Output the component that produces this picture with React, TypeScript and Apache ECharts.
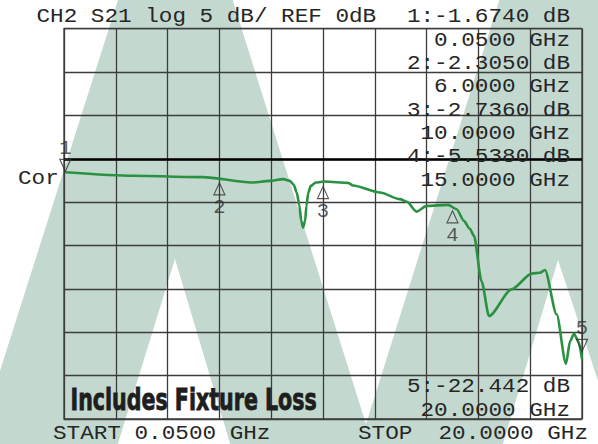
import React, { useEffect, useRef } from "react";
import * as echarts from "echarts";

// Trace: frequency (GHz) and S21 magnitude (dB)
const traceGhz = [
  0.05, 2.67, 5.37, 7.24, 7.95, 8.46, 8.72, 8.87, 8.99, 9.09, 9.16, 9.23, 9.31, 9.36, 9.43,
  9.53, 9.72, 10.07, 10.97, 11.16, 12.2, 12.97, 13.24, 13.61, 14.0, 14.83, 15.16, 15.44,
  15.67, 15.83, 16.12, 16.41, 17.28, 18.06, 18.38, 18.57, 19.02, 19.38, 19.54, 19.69, 19.86, 20.0,
];
const traceDb = [
  -1.55, -1.96, -2.11, -2.74, -2.54, -2.34, -2.54, -3.0, -3.93, -5.43, -7.16, -7.93, -7.16, -5.43, -3.93,
  -3.12, -2.74, -2.62, -2.77, -3.08, -3.89, -4.65, -4.96, -6.09, -5.43, -5.31, -5.81, -7.16,
  -8.08, -8.89, -14.09, -18.13, -15.05, -13.24, -13.13, -12.82, -17.93, -23.64, -21.02, -20.17, -21.02, -23.1,
];

// Markers
const markerGhz = [0.05, 6, 10, 15, 20];
const markerDb = [-1.674, -2.305, -2.736, -5.538, -22.442];
const markerUp = [false, true, true, true, false];

// Axis ticks
const xMin = 0;
const xMax = 20;
const xStep = 2;
const yMin = -30;
const yMax = 15;
const yStep = 5;

// Texts
const headerText = "CH2 S21 log 5 dB/ REF 0dB";
const corText = "Cor";
const startText = "START 0.0500 GHz";
const stopWord = "STOP";
const stopValue = "20.0000 GHz";
const noteText = "Includes Fixture Loss";

const MONO = "'Liberation Mono', 'DejaVu Sans Mono', monospace";
const MONO_SIZE = 20.5;
const MONO_SCALE = 1.105;
const TXT = "#262626";
const GREEN_BG = "#c3d9cf";

function monoText(text: string, x: number, y: number, align: string) {
  return {
    type: "text",
    z: 20,
    silent: true,
    x,
    y,
    scaleX: MONO_SCALE,
    style: {
      text,
      fontFamily: MONO,
      fontSize: MONO_SIZE,
      lineHeight: 18,
      fill: TXT,
      align,
      textAlign: align,
      verticalAlign: "middle",
      textVerticalAlign: "middle",
    },
  };
}

export default function App() {
  const ref = useRef<HTMLDivElement>(null);
  useEffect(() => {
    document.body.style.margin = "0";
    if (!ref.current) return;
    const chart = echarts.init(ref.current, null, { renderer: "svg" });

    const readouts: any[] = [];
    const lineStep = 23.33;
    for (let i = 0; i < 4; i++) {
      readouts.push(monoText(`${i + 1}:${markerDb[i].toPrecision(5)} dB`, 570, 16.7 + 2 * i * lineStep, "right"));
      readouts.push(monoText(`${markerGhz[i].toFixed(4)} GHz`, 570, 16.7 + (2 * i + 1) * lineStep, "right"));
    }
    readouts.push(monoText(`5:${markerDb[4].toPrecision(5)} dB`, 570, 386.7, "right"));
    readouts.push(monoText(`${markerGhz[4].toFixed(4)} GHz`, 570, 410, "right"));

    const bgShapes = [
      { type: "rect", z: -20, silent: true, shape: { x: 0, y: 0, width: 598, height: 444 }, style: { fill: GREEN_BG } },
      { type: "polygon", z: -19, silent: true, shape: { points: [[-2, -2], [118.6, -2], [-2, 377]] }, style: { fill: "#fff" } },
      { type: "polygon", z: -19, silent: true, shape: { points: [[232, -2], [500, -2], [366, 424]] }, style: { fill: "#fff" } },
      { type: "polygon", z: -19, silent: true, shape: { points: [[175, 259], [116, 450], [232, 450]] }, style: { fill: "#fff" } },
      { type: "polygon", z: -19, silent: true, shape: { points: [[558, 260], [501, 450], [621, 450]] }, style: { fill: "#fff" } },
    ];

    const texts = [
      monoText(headerText, 36.5, 16.7, "left"),
      monoText(corText, 18, 178.3, "left"),
      monoText(startText, 53, 433, "left"),
      monoText(stopWord, 358, 433, "left"),
      monoText(stopValue, 588, 433, "right"),
      {
        type: "text",
        z: 20,
        silent: true,
        x: 70.5,
        y: 399,
        scaleX: 0.763,
        style: {
          text: noteText,
          fontFamily: "'Liberation Sans Narrow', 'DejaVu Sans Condensed', 'Arial Narrow', sans-serif",
          fontWeight: "bold",
          fontSize: 30,
          lineHeight: 26,
          fill: "#1e1e1e",
          stroke: "#1e1e1e",
          lineWidth: 0.8,
          align: "left",
          textAlign: "left",
          verticalAlign: "middle",
          textVerticalAlign: "middle",
        },
      },
    ];

    const trace = traceGhz.map((f, i) => [f, traceDb[i]]);
    const markers = markerGhz.map((f, i) => ({
      value: [f, markerDb[i]],
      symbol: markerUp[i] ? "triangle" : "path://M0,0L10,0L5,11Z",
      symbolOffset: markerUp[i] ? [0, 10] : [0, -8],
      label: { position: markerUp[i] ? "bottom" : "top", distance: markerUp[i] ? 1 : -1 },
    }));

    const gridColor = "#3c3c3c";

    chart.setOption({
      animation: false,
      grid: {
        left: 64,
        top: 28.7,
        width: 518,
        height: 390.3,
        show: true,
        borderColor: gridColor,
        borderWidth: 1.3,
        backgroundColor: "transparent",
      },
      xAxis: {
        type: "value",
        min: xMin,
        max: xMax,
        interval: xStep,
        axisLine: { show: false },
        axisTick: { show: false },
        axisLabel: { show: false },
        splitLine: { show: true, lineStyle: { color: gridColor, width: 1.3 } },
      },
      yAxis: {
        type: "value",
        min: yMin,
        max: yMax,
        interval: yStep,
        axisLine: { show: false },
        axisTick: { show: false },
        axisLabel: { show: false },
        splitLine: { show: true, lineStyle: { color: gridColor, width: 1.3 } },
      },
      graphic: { elements: [...bgShapes, ...readouts, ...texts] },
      series: [
        {
          type: "line",
          data: trace,
          showSymbol: false,
          smooth: 0.25,
          smoothMonotone: "x",
          lineStyle: { color: "#2a9140", width: 2.6 },
          z: 5,
          markLine: {
            silent: true,
            symbol: "none",
            label: { show: false },
            lineStyle: { color: "#000", width: 2.6, type: "solid" },
            data: [{ yAxis: 0 }],
          },
        },
        {
          type: "scatter",
          data: markers,
          symbolSize: [11, 12],
          itemStyle: { color: "none", borderColor: "#333", borderWidth: 1.2 },
          z: 6,
          label: {
            show: true,
            formatter: (p: any) => String(p.dataIndex + 1),
            fontFamily: MONO,
            fontSize: MONO_SIZE,
            lineHeight: 18,
            color: "#333",
          },
        },
      ],
    });
    return () => chart.dispose();
  }, []);
  return <div ref={ref} style={{ width: 598, height: 444 }} />;
}
